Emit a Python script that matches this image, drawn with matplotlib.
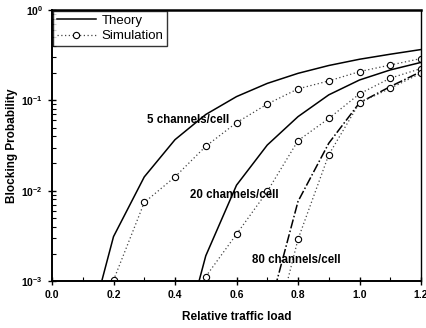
import matplotlib
matplotlib.use("Agg")
import matplotlib.pyplot as plt
from matplotlib.ticker import LogLocator, FixedLocator, NullFormatter, FuncFormatter
import math

plt.rcParams['font.family'] = ['Liberation Sans', 'DejaVu Sans']
plt.rcParams['mathtext.fontset'] = 'custom'
plt.rcParams['mathtext.rm'] = 'Liberation Sans:bold'
plt.rcParams['mathtext.it'] = 'Liberation Sans:italic'
plt.rcParams['mathtext.bf'] = 'Liberation Sans:bold'

# ---- data ----
load_theory = [0.1, 0.2, 0.3, 0.4, 0.5, 0.6, 0.7, 0.8, 0.9, 1.0, 1.1, 1.2]
theory_5 = [0.00016, 0.0031, 0.0142, 0.0367, 0.0697, 0.110, 0.154, 0.199, 0.243, 0.285, 0.324, 0.365]
load_theory_20 = [0.4, 0.5, 0.6, 0.7, 0.8, 0.9, 1.0, 1.1, 1.2]
theory_20 = [0.0001, 0.0019, 0.0115, 0.032, 0.066, 0.115, 0.168, 0.217, 0.263]
load_theory_80 = [0.7, 0.8, 0.9, 1.0, 1.1, 1.2]
theory_80 = [0.0004, 0.0076, 0.0335, 0.094, 0.142, 0.208]

load_sim_5 = [0.2, 0.3, 0.4, 0.5, 0.6, 0.7, 0.8, 0.9, 1.0, 1.1, 1.2]
sim_5 = [0.00102, 0.0074, 0.0142, 0.031, 0.0566, 0.091, 0.134, 0.164, 0.208, 0.246, 0.29]
load_sim_20 = [0.5, 0.6, 0.7, 0.8, 0.9, 1.0, 1.1, 1.2]
sim_20 = [0.00112, 0.0033, 0.0098, 0.0358, 0.063, 0.118, 0.176, 0.225]
load_sim_80 = [0.7, 0.8, 0.9, 1.0, 1.1, 1.2]
sim_80 = [0.00013, 0.0029, 0.025, 0.094, 0.136, 0.2]

labels = ["5 channels/cell", "20 channels/cell", "80 channels/cell"]
label_pos = [(0.443, 0.0607), (0.592, 0.0090), (0.794, 0.00172)]
x_ticks = [0.0, 0.2, 0.4, 0.6, 0.8, 1.0, 1.2]

fig = plt.figure(figsize=(4.27, 3.28), dpi=100)
ax = fig.add_axes([0.1218, 0.1433, 0.8642, 0.8262])

sim_style = dict(color='#444444', lw=0.9, ls=(0, (1, 2)), marker='o',
                 mfc='white', mec='black', ms=4.5, mew=0.8)
ax.plot(load_theory, theory_5, color='black', lw=1.1, label='Theory')
ax.plot(load_sim_5, sim_5, label='Simulation', **sim_style)
ax.plot(load_theory_20, theory_20, color='black', lw=1.1)
ax.plot(load_sim_20, sim_20, **sim_style)
ax.plot(load_theory_80, theory_80, color='black', lw=1.1, ls=(0, (6, 1.5, 1, 1.5)))
ax.plot(load_sim_80, sim_80, **sim_style)

for txt, (x, y) in zip(labels, label_pos):
    ax.text(x, y, txt, ha='center', va='center', fontsize=8.3, fontweight='bold')

ax.set_yscale('log')
ax.set_xlim(0.0, 1.2)
ax.set_ylim(1e-3, 1.0)
ax.xaxis.set_major_locator(FixedLocator(x_ticks))
ax.xaxis.set_minor_locator(FixedLocator([0.1, 0.3, 0.5, 0.7, 0.9, 1.1]))
ax.xaxis.set_major_formatter(FuncFormatter(lambda v, p: f"{v:.1f}"))
ax.yaxis.set_major_locator(LogLocator(base=10, numticks=10))
ax.yaxis.set_minor_locator(LogLocator(base=10, subs=range(2, 10), numticks=10))
ax.yaxis.set_minor_formatter(NullFormatter())


def yfmt(v, p):
    e = int(round(math.log10(v)))
    return r"$10^{%d}$" % e


ax.yaxis.set_major_formatter(FuncFormatter(yfmt))

ax.tick_params(axis='both', which='major', direction='inout', length=6, width=1.0,
               labelsize=7.5, top=False, right=False)
ax.tick_params(axis='both', which='minor', direction='in', length=3, width=0.8,
               top=False, right=False)
for lab in ax.get_xticklabels() + ax.get_yticklabels():
    lab.set_fontweight('bold')

ax.spines['left'].set_linewidth(1.4)
ax.spines['bottom'].set_linewidth(1.4)
ax.spines['top'].set_linewidth(1.8)
ax.spines['right'].set_linewidth(1.0)

ax.set_xlabel('Relative traffic load', fontsize=8.5, fontweight='bold', labelpad=8)
ax.set_ylabel('Blocking Probability', fontsize=8.5, fontweight='bold', labelpad=2)

leg = ax.legend(loc='upper left', fontsize=9.5, frameon=True, fancybox=False,
                edgecolor='black', handlelength=3.0, borderpad=0.3,
                borderaxespad=0.05, labelspacing=0.25, handletextpad=0.4)
leg.get_frame().set_linewidth(1.0)

fig.savefig('out.png', dpi=100)
